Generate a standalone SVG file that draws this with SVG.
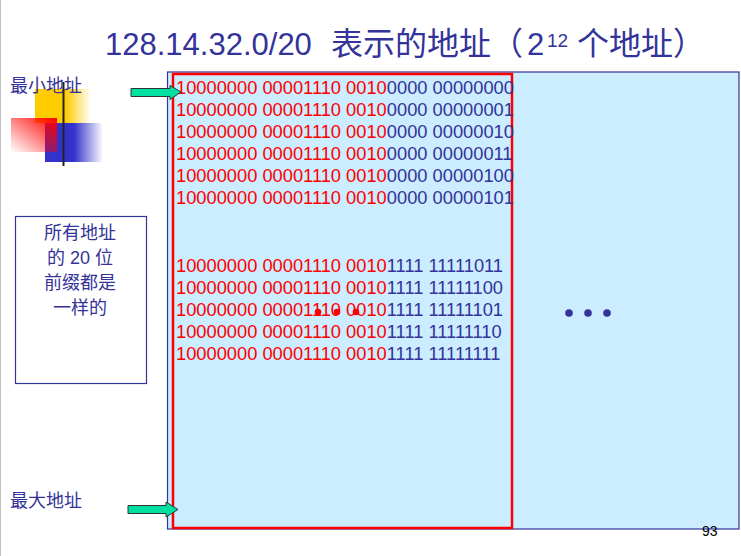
<svg xmlns="http://www.w3.org/2000/svg" width="741" height="556" viewBox="0 0 741 556">
<defs>
<style>
.t{font-family:"Liberation Sans","Noto Sans CJK SC",sans-serif}
.cjk{font-family:"Liberation Sans","Noto Sans CJK SC",sans-serif;fill:#333399}
.row{font-family:"Liberation Sans",sans-serif;font-size:18.3px}
.r{fill:#FF0000}
.b{fill:#333399}
.arrow{fill:#00E0A0;stroke:#333333;stroke-width:1}
</style>
<linearGradient id="gy" x1="0" y1="0" x2="1" y2="0">
<stop offset="0" stop-color="#FFCC00"/><stop offset="0.55" stop-color="#FFCC00"/><stop offset="1" stop-color="#FFCC00" stop-opacity="0"/>
</linearGradient>
<linearGradient id="gb" x1="0" y1="0" x2="1" y2="0">
<stop offset="0" stop-color="#3333CC"/><stop offset="0.5" stop-color="#3333CC"/><stop offset="1" stop-color="#3333CC" stop-opacity="0"/>
</linearGradient>
<linearGradient id="gr" x1="0" y1="1" x2="1" y2="0">
<stop offset="0" stop-color="#FF0000" stop-opacity="0"/><stop offset="1" stop-color="#FF0000"/>
</linearGradient>
<linearGradient id="gl" x1="0" y1="0" x2="1" y2="0">
<stop offset="0" stop-color="#222222"/><stop offset="1" stop-color="#777777"/>
</linearGradient>
</defs>
<rect width="741" height="556" fill="#FFFFFF"/>
<line x1="0.5" y1="0" x2="0.5" y2="556" stroke="#C0C0C0" stroke-width="1"/>

<g id="decoration">
<rect x="35" y="89" width="56" height="34" fill="url(#gy)"/>
<rect x="45" y="123" width="58" height="39" fill="url(#gb)"/>
<rect x="11" y="118" width="46" height="34" fill="url(#gr)"/>
<line x1="37" y1="147" x2="167" y2="147" stroke="url(#gl)" stroke-width="3"/>
<line x1="63.5" y1="82" x2="63.5" y2="166" stroke="#222222" stroke-width="2"/>
</g>

<text id="title" class="cjk" y="55" font-size="31"><tspan x="105">128.14.32.0/20</tspan><tspan x="331" font-size="32">表示的地址（</tspan><tspan x="527">2</tspan><tspan x="547" y="47" font-size="19">12</tspan><tspan x="577" y="55" font-size="32">个地址）</tspan></text>

<g id="address-block">
<rect x="167.5" y="72" width="571.5" height="457" fill="#CCECFF" stroke="#333399" stroke-width="1.2"/>
<rect x="173" y="74" width="339" height="454" fill="none" stroke="#FF0000" stroke-width="2.5"/>
<g class="row">
<text x="176" y="94"><tspan class="r">10000000 00001110 0010</tspan><tspan class="b">0000 00000000</tspan></text>
<text x="176" y="116"><tspan class="r">10000000 00001110 0010</tspan><tspan class="b">0000 00000001</tspan></text>
<text x="176" y="138"><tspan class="r">10000000 00001110 0010</tspan><tspan class="b">0000 00000010</tspan></text>
<text x="176" y="160"><tspan class="r">10000000 00001110 0010</tspan><tspan class="b">0000 00000011</tspan></text>
<text x="176" y="182"><tspan class="r">10000000 00001110 0010</tspan><tspan class="b">0000 00000100</tspan></text>
<text x="176" y="204"><tspan class="r">10000000 00001110 0010</tspan><tspan class="b">0000 00000101</tspan></text>
<text x="176" y="272"><tspan class="r">10000000 00001110 0010</tspan><tspan class="b">1111 11111011</tspan></text>
<text x="176" y="294"><tspan class="r">10000000 00001110 0010</tspan><tspan class="b">1111 11111100</tspan></text>
<text x="176" y="316"><tspan class="r">10000000 00001110 0010</tspan><tspan class="b">1111 11111101</tspan></text>
<text x="176" y="338"><tspan class="r">10000000 00001110 0010</tspan><tspan class="b">1111 11111110</tspan></text>
<text x="176" y="360"><tspan class="r">10000000 00001110 0010</tspan><tspan class="b">1111 11111111</tspan></text>
</g>
<g fill="#FF0000">
<circle cx="318" cy="312" r="3.3"/><circle cx="337" cy="312" r="3.3"/><circle cx="356" cy="312" r="3.3"/>
</g>
<g fill="#333399">
<circle cx="569" cy="313" r="3.8"/><circle cx="588" cy="313" r="3.8"/><circle cx="607" cy="313" r="3.8"/>
</g>
</g>

<g id="label-min">
<text class="cjk" x="10" y="92" font-size="18">最小地址</text>
</g>
<g id="label-max">
<text class="cjk" x="10" y="507" font-size="18">最大地址</text>
</g>

<g id="note">
<rect x="15.5" y="216.5" width="131" height="167" fill="#FFFFFF" stroke="#333399" stroke-width="1.2"/>
<g class="cjk" font-size="18" text-anchor="middle">
<text x="80" y="239">所有地址</text>
<text x="80" y="264">的 20 位</text>
<text x="80" y="289">前缀都是</text>
<text x="80" y="314">一样的</text>
</g>
</g>

<g id="connectors">
<polygon class="arrow" points="131,88.5 170,88.5 170,85.5 181,92 170,99.5 170,96.5 131,96.5"/>
<polygon class="arrow" points="128,505.5 166,505.5 166,502 178,509.5 166,517 166,513.5 128,513.5"/>
</g>

<text id="page-number" class="t" x="702" y="536" font-size="14" fill="#000000">93</text>
</svg>
